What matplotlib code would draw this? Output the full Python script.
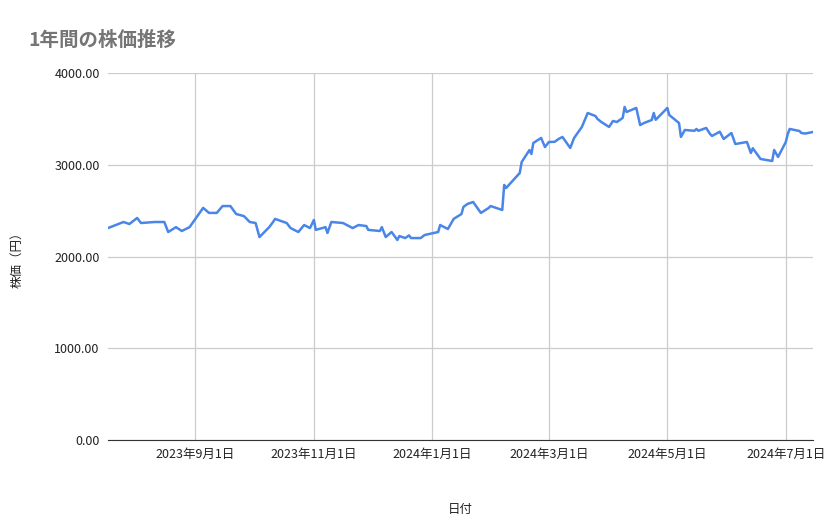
import matplotlib.pyplot as plt
import matplotlib.dates as mdates
import pandas as pd

plt.rcParams['font.family'] = ['Noto Sans CJK JP', 'DejaVu Sans']

# ---- data ----
dates = [
    "2023-07-18", "2023-07-26", "2023-07-29", "2023-08-02", "2023-08-04", "2023-08-11",
    "2023-08-16", "2023-08-18", "2023-08-22", "2023-08-25", "2023-08-29", "2023-09-05",
    "2023-09-08", "2023-09-12", "2023-09-15", "2023-09-19", "2023-09-22", "2023-09-26",
    "2023-09-29", "2023-10-02", "2023-10-04", "2023-10-09", "2023-10-11", "2023-10-12",
    "2023-10-18", "2023-10-20", "2023-10-24", "2023-10-27", "2023-10-30", "2023-11-01",
    "2023-11-02", "2023-11-07", "2023-11-08", "2023-11-10", "2023-11-16", "2023-11-21",
    "2023-11-24", "2023-11-28", "2023-11-29", "2023-12-05", "2023-12-06", "2023-12-08",
    "2023-12-11", "2023-12-14", "2023-12-15", "2023-12-18", "2023-12-20", "2023-12-21",
    "2023-12-26", "2023-12-28", "2024-01-04", "2024-01-05", "2024-01-09", "2024-01-12",
    "2024-01-16", "2024-01-17", "2024-01-19", "2024-01-22", "2024-01-26", "2024-01-30",
    "2024-01-31", "2024-02-06", "2024-02-07", "2024-02-08", "2024-02-15", "2024-02-16",
    "2024-02-20", "2024-02-21", "2024-02-22", "2024-02-26", "2024-02-28", "2024-03-01",
    "2024-03-04", "2024-03-06", "2024-03-08", "2024-03-12", "2024-03-14", "2024-03-18",
    "2024-03-21", "2024-03-25", "2024-03-26", "2024-03-28", "2024-04-01", "2024-04-03",
    "2024-04-05", "2024-04-08", "2024-04-09", "2024-04-10", "2024-04-15", "2024-04-17",
    "2024-04-19", "2024-04-23", "2024-04-24", "2024-04-25", "2024-05-01", "2024-05-02",
    "2024-05-07", "2024-05-08", "2024-05-10", "2024-05-15", "2024-05-16", "2024-05-17",
    "2024-05-21", "2024-05-23", "2024-05-24", "2024-05-28", "2024-05-30", "2024-06-03",
    "2024-06-05", "2024-06-11", "2024-06-13", "2024-06-14", "2024-06-18", "2024-06-24",
    "2024-06-25", "2024-06-27", "2024-07-01", "2024-07-02", "2024-07-03", "2024-07-08",
    "2024-07-09", "2024-07-11", "2024-07-15",
]
prices = [
    2310, 2376, 2354, 2420, 2365, 2376,
    2376, 2267, 2320, 2278, 2320, 2530,
    2475, 2475, 2550, 2550, 2463, 2440,
    2376, 2365, 2212, 2320, 2376, 2410,
    2365, 2310, 2267, 2343, 2310, 2398,
    2290, 2320, 2256, 2376, 2365, 2310,
    2343, 2332, 2290, 2278, 2320, 2212,
    2267, 2180, 2223, 2201, 2230, 2201,
    2201, 2234, 2267, 2343, 2300, 2410,
    2463, 2540, 2572, 2594, 2475, 2529,
    2550, 2507, 2780, 2747, 2910, 3030,
    3160, 3117, 3237, 3292, 3193, 3248,
    3250, 3281, 3303, 3183, 3292, 3412,
    3564, 3531, 3500, 3466, 3412, 3477,
    3466, 3510, 3630, 3575, 3619, 3433,
    3455, 3488, 3564, 3490, 3619, 3542,
    3455, 3303, 3379, 3370, 3390, 3370,
    3401, 3335, 3314, 3360, 3281, 3346,
    3226, 3248, 3128, 3180, 3063, 3041,
    3161, 3085, 3248, 3335, 3390, 3368,
    3346, 3340, 3357,
]
tick_dates = ["2023-09-01", "2023-11-01", "2024-01-01", "2024-03-01", "2024-05-01", "2024-07-01"]
y_ticks = [0, 1000, 2000, 3000, 4000]

x = pd.to_datetime(dates)
ticks = pd.to_datetime(tick_dates)

fig = plt.figure(figsize=(8.39, 5.19), dpi=100)
ax = fig.add_axes([108 / 839, 1 - 440 / 519, 705 / 839, 367 / 519])

ax.plot(x, prices, color="#4a86e8", linewidth=1.8)

ax.set_xlim(pd.Timestamp("2023-07-18"), pd.Timestamp("2024-07-15"))
ax.set_ylim(0, 4000)
ax.set_xticks(ticks)
ax.set_xticklabels([f"{d.year}年{d.month}月{d.day}日" for d in ticks])
ax.set_yticks(y_ticks)
ax.set_yticklabels([f"{v:.2f}" for v in y_ticks])

ax.grid(True, color="#cccccc", linewidth=0.9)
ax.set_axisbelow(True)
for s in ["top", "right", "left"]:
    ax.spines[s].set_visible(False)
ax.spines["bottom"].set_color("#333333")
ax.tick_params(length=0, labelsize=9, colors="#222222", pad=6)

ax.set_xlabel("日付", fontsize=9, color="#222222", labelpad=30)
ax.set_ylabel("株価（円）", fontsize=9, color="#222222", labelpad=22)

fig.text(28 / 839, 1 - 40 / 519, "1年間の株価推移", fontsize=14, color="#757575",
         fontweight="bold", va="center")

fig.savefig("out.png", dpi=100)
